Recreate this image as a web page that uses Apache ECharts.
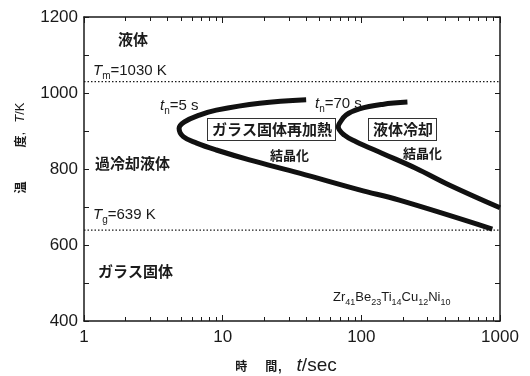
<!DOCTYPE html>
<html>
<head>
<meta charset="utf-8">
<script src="https://cdn.jsdelivr.net/npm/echarts@6/dist/echarts.min.js"></script>
<style>
  html, body { margin: 0; padding: 0; background: #fff; }
  #chart { width: 530px; height: 376px; }
</style>
</head>
<body>
<div id="chart"></div>
<script>
// Time axis (log) range and labels
const xMin = 1;
const xMax = 1000;
const xLabels = [1, 10, 100, 1000];
// Temperature axis range and labels
const yMin = 400;
const yMax = 1200;
const yLabels = [400, 600, 800, 1000, 1200];

// Crystallization curve on reheating the glass (t in s, T in K)
const reheatTime = [40, 18.5, 9.0, 6.8, 5.3, 4.85, 5.2, 6.5, 9.0, 15.6, 35.8, 97, 188, 880];
const reheatTemp = [982, 973, 955, 942, 924, 907, 885, 868, 850, 824, 789, 745, 718, 642];

// Crystallization curve on cooling the liquid
const coolTime = [215, 142, 96.8, 77.6, 69.5, 68.2, 75.5, 91.6, 142, 247, 430, 1000];
const coolTemp = [976, 970, 958, 942, 920, 911, 889, 872, 841, 802, 758, 698];

// Characteristic temperatures
const Tm = 1030;
const Tg = 639;

const ink = '#1a1a1a';
const cjk = '"Noto Sans CJK JP", "Noto Sans CJK SC", sans-serif';
const latin = '"Liberation Sans", Arial, sans-serif';

const zip = (a, b) => a.map((v, i) => [v, b[i]]);

const chart = echarts.init(document.getElementById('chart'), null, { renderer: 'canvas' });

const logAxisBase = {
  type: 'log', logBase: 10, min: xMin, max: xMax,
  splitLine: { show: false },
  axisLine: { show: true, lineStyle: { color: ink, width: 1.5 } },
  axisTick: { show: true, inside: true, length: 6, lineStyle: { color: ink, width: 1 } },
  minorTick: { show: true, splitNumber: 9, length: 4, lineStyle: { color: ink, width: 1 } }
};
const valAxisBase = {
  type: 'value', min: yMin, max: yMax, interval: 100,
  splitLine: { show: false },
  axisLine: { show: true, lineStyle: { color: ink, width: 1.5 } },
  axisTick: { show: true, inside: true, length: 5, lineStyle: { color: ink, width: 1 } }
};

// Symbol with a lowered subscript, e.g. T_m
const subRich = (size, subSize, drop) => ({
  i: { font: 'italic ' + size + 'px ' + latin, fill: ink, verticalAlign: 'top', lineHeight: size + 2 },
  r: { font: size + 'px ' + latin, fill: ink, verticalAlign: 'top', lineHeight: size + 2 },
  s: { font: subSize + 'px ' + latin, fill: ink, verticalAlign: 'bottom', padding: [drop, 0, 0, 0] }
});
const subLabel = (x, y, sym, sub, rest) => ({
  type: 'text', left: x, top: y,
  style: { text: '{i|' + sym + '}{s|' + sub + '}{r|' + rest + '}', rich: subRich(15, 10, 8) }
});

const option = {
  animation: false,
  backgroundColor: '#fff',
  grid: { left: 84, right: 30, top: 17, bottom: 55 },
  xAxis: [
    Object.assign({}, logAxisBase, {
      position: 'bottom',
      axisLabel: {
        show: true, color: ink, fontFamily: latin, fontSize: 17, margin: 8,
        formatter: v => (xLabels.indexOf(v) >= 0 ? String(v) : '')
      }
    }),
    Object.assign({}, logAxisBase, {
      position: 'top',
      axisLabel: { show: false }
    })
  ],
  yAxis: [
    Object.assign({}, valAxisBase, {
      position: 'left',
      axisLabel: {
        show: true, color: ink, fontFamily: latin, fontSize: 17, margin: 6,
        formatter: v => (yLabels.indexOf(v) >= 0 ? String(v) : '')
      }
    }),
    Object.assign({}, valAxisBase, {
      position: 'right',
      axisLabel: { show: false }
    })
  ],
  series: [
    {
      type: 'line', xAxisIndex: 0, yAxisIndex: 0,
      data: [[xMin, Tm], [xMax, Tm]], showSymbol: false, symbol: 'none',
      lineStyle: { color: ink, width: 1.2, type: [1.5, 2] }, silent: true
    },
    {
      type: 'line', xAxisIndex: 0, yAxisIndex: 0,
      data: [[xMin, Tg], [xMax, Tg]], showSymbol: false, symbol: 'none',
      lineStyle: { color: ink, width: 1.2, type: [1.5, 2] }, silent: true
    },
    {
      type: 'line', xAxisIndex: 0, yAxisIndex: 0,
      data: zip(reheatTime, reheatTemp), showSymbol: false, symbol: 'none',
      smooth: 0.4, lineStyle: { color: '#111', width: 5, cap: 'butt' }, silent: true
    },
    {
      type: 'line', xAxisIndex: 0, yAxisIndex: 0,
      data: zip(coolTime, coolTemp), showSymbol: false, symbol: 'none',
      smooth: 0.4, lineStyle: { color: '#111', width: 5, cap: 'butt' }, silent: true
    }
  ],
  graphic: [
    // axis titles
    {
      type: 'text', x: 286, y: 366,
      style: {
        text: '{b|時}{sp| }{b|間}{r|,}{sp2| }{i|t}{r|/sec}',
        align: 'center', verticalAlign: 'middle',
        rich: {
          b: { font: 'bold 12px ' + cjk, fill: ink },
          sp: { width: 18 },
          sp2: { width: 14 },
          r: { font: '19px ' + latin, fill: ink },
          i: { font: 'italic 19px ' + latin, fill: ink }
        }
      }
    },
    {
      type: 'text', x: 20, y: 148, rotation: Math.PI / 2,
      style: {
        text: '{b|温}{sp| }{b|度}{r|,}{sp2| }{i|T}{r|/K}',
        align: 'center', verticalAlign: 'middle',
        rich: {
          b: { font: 'bold 12px ' + cjk, fill: ink },
          sp: { width: 34 },
          sp2: { width: 9 },
          r: { font: '13px ' + latin, fill: ink },
          i: { font: 'italic 13px ' + latin, fill: ink }
        }
      }
    },
    // region and curve annotations
    { type: 'text', left: 118, top: 32, style: { text: '液体', font: 'bold 15px ' + cjk, fill: ink } },
    subLabel(93, 63, 'T', 'm', '=1030 K'),
    subLabel(160, 98, 't', 'n', '=5 s'),
    subLabel(315, 96, 't', 'n', '=70 s'),
    {
      type: 'text', left: 207, top: 118,
      style: {
        text: 'ガラス固体再加熱', font: 'bold 15px ' + cjk, fill: ink,
        backgroundColor: '#fff', borderColor: '#333', borderWidth: 1, padding: [3, 3, 3, 4]
      }
    },
    {
      type: 'text', left: 368, top: 118,
      style: {
        text: '液体冷却', font: 'bold 15px ' + cjk, fill: ink,
        backgroundColor: '#fff', borderColor: '#333', borderWidth: 1, padding: [3, 3, 3, 4]
      }
    },
    { type: 'text', left: 270, top: 149, style: { text: '結晶化', font: 'bold 13px ' + cjk, fill: ink } },
    { type: 'text', left: 403, top: 147, style: { text: '結晶化', font: 'bold 13px ' + cjk, fill: ink } },
    { type: 'text', left: 95, top: 156, style: { text: '過冷却液体', font: 'bold 15px ' + cjk, fill: ink } },
    subLabel(93, 207, 'T', 'g', '=639 K'),
    { type: 'text', left: 98, top: 264, style: { text: 'ガラス固体', font: 'bold 15px ' + cjk, fill: ink } },
    {
      type: 'text', left: 333, top: 291,
      style: {
        text: '{r|Zr}{s|41}{r|Be}{s|23}{r|Ti}{s|14}{r|Cu}{s|12}{r|Ni}{s|10}',
        rich: {
          r: { font: '13px ' + latin, fill: ink, verticalAlign: 'top', lineHeight: 15 },
          s: { font: '9px ' + latin, fill: ink, verticalAlign: 'bottom', padding: [7, 0, 0, 0] }
        }
      }
    }
  ]
};

chart.setOption(option);
</script>
</body>
</html>
